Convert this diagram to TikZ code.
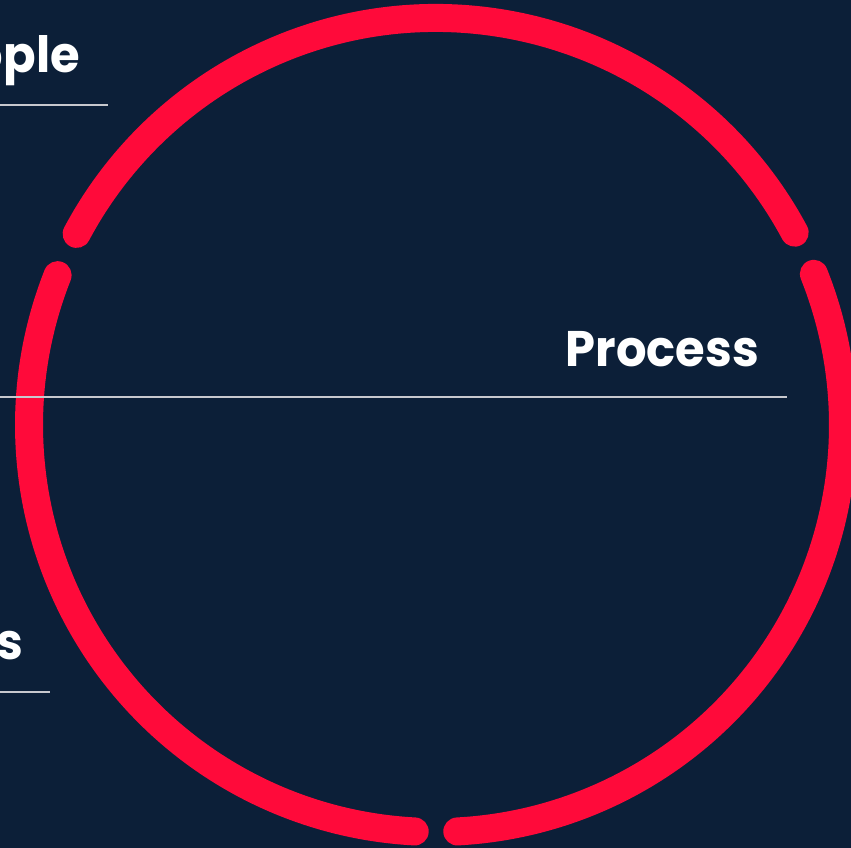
\documentclass[tikz,border=0pt]{standalone}
\usepackage{fontspec}
\newfontfamily\pop{Poppins}
\definecolor{navy}{RGB}{12,31,56}
\definecolor{ringred}{RGB}{255,10,58}
\definecolor{rulegray}{RGB}{200,200,206}
\begin{document}
\begin{tikzpicture}[x=1pt,y=1pt,
  ring/.style={draw=ringred,line width=28pt,line cap=round},
  rulel/.style={draw=rulegray,line width=2pt},
  lbl/.style={inner sep=0pt,anchor=base east,text=white,font=\pop\bfseries\fontsize{50}{60}\selectfont,xscale=0.96}]
\fill[navy] (0,0) rectangle (851,848);
\useasboundingbox (0,0) rectangle (851,848);
\coordinate (c) at (436,423);
% ring segments
\draw[ring] ([shift={(c)}]28.2:407) arc[start angle=28.2,end angle=152.0,radius=407];
\draw[ring] ([shift={(c)}]158.4:407) arc[start angle=158.4,end angle=267.0,radius=407];
\draw[ring] ([shift={(c)}]273.0:407) arc[start angle=273.0,end angle=381.8,radius=407];
% labels
\node[lbl] (people) at (80,775) {ople};
\node[lbl] (process) at (759,481) {Process};
\node[lbl] (tools) at (23,188) {s};
% rules
\coordinate (p0) at (0,743); \coordinate (p1) at (108,743);
\coordinate (q0) at (0,451); \coordinate (q1) at (787,451);
\coordinate (t0) at (0,156); \coordinate (t1) at (50,156);
\draw[rulel] (p0) -- (p1);
\draw[rulel] (q0) -- (q1);
\draw[rulel] (t0) -- (t1);
\end{tikzpicture}
\end{document}
